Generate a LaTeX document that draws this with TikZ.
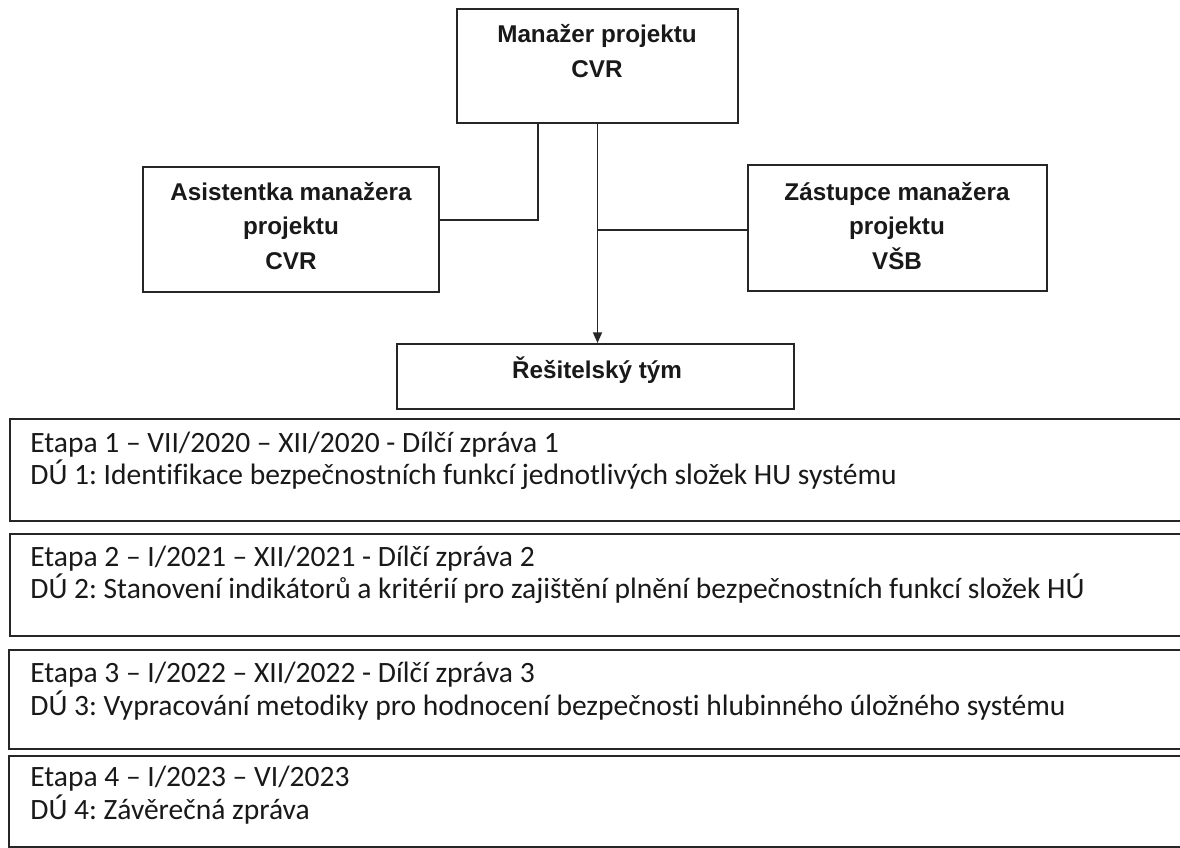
\documentclass[tikz,border=0pt]{standalone}
\usepackage{fontspec}
\setmainfont{Liberation Sans}
\newfontfamily\etapafont[Ligatures={NoCommon}]{Carlito}
\usetikzlibrary{fit,arrows.meta}

\tikzset{
  box/.style={draw=black!85, line width=1.1pt, inner sep=0pt},
  head/.style={font=\bfseries\fontsize{13.8}{19.5}\selectfont, align=center, text=black!90},
  etapa/.style={font=\etapafont\frenchspacing\fontsize{16.8}{18.4}\selectfont, align=left, anchor=west, inner sep=0pt, text=black!90},
  link/.style={draw=black!85, line width=1.1pt},
  arr/.style={link, -{Triangle[length=6pt,width=5pt]}},
}

\begin{document}
\begin{tikzpicture}[x=0.02cm, y=-0.02cm]
  \clip (0,0) rectangle (1180,848);
  \fill[white] (0,0) rectangle (1180,848);

  % organisation boxes
  \node[box, fit={(457,9) (738,123)}]  (mgr)   {};
  \node[box, fit={(143,167) (439,292)}] (asist) {};
  \node[box, fit={(748,165) (1047,291)}] (zast) {};
  \node[box, fit={(397,344) (794,409)}] (tym)   {};
  \node[head] (mgrtxt)   at (597,51)  {Manažer projektu\\CVR};
  \node[head] (asisttxt) at (291,226) {Asistentka manažera\\projektu\\CVR};
  \node[head] (zasttxt)  at (897,226) {Zástupce manažera\\projektu\\VŠB};
  \node[head] (tymtxt)   at (597,370) {Řešitelský tým};

  % connectors
  \coordinate (lj) at (538,220);
  \draw[link] (mgr.south -| lj) -- (lj) -- (asist.east |- lj);
  \draw[arr]  (mgr.south) -- (mgr.south |- tym.north);
  \draw[link] (mgr.south |- 0,230) -- (zast.west |- 0,230);

  % stages
  \node[box, fit={(10,419) (1210,521)}] (e1) {};
  \node[box, fit={(10,534) (1210,636)}] (e2) {};
  \node[box, fit={(9,650) (1210,749)}]  (e3) {};
  \node[box, fit={(9,756) (1210,847)}]  (e4) {};
  \node[etapa] (e1txt) at (30,461) {Etapa 1 – VII/2020 – XII/2020 - Dílčí zpráva 1\\DÚ 1: Identifikace bezpečnostních funkcí jednotlivých složek HU systému};
  \node[etapa] (e2txt) at (30,575) {Etapa 2 – I/2021 – XII/2021 - Dílčí zpráva 2\\DÚ 2: Stanovení indikátorů a kritérií pro zajištění plnění bezpečnostních funkcí složek HÚ};
  \node[etapa] (e3txt) at (30,691) {Etapa 3 – I/2022 – XII/2022 - Dílčí zpráva 3\\DÚ 3: Vypracování metodiky pro hodnocení bezpečnosti hlubinného úložného systému};
  \node[etapa] (e4txt) at (30,795) {Etapa 4 – I/2023 – VI/2023\\DÚ 4: Závěrečná zpráva};
\end{tikzpicture}
\end{document}
